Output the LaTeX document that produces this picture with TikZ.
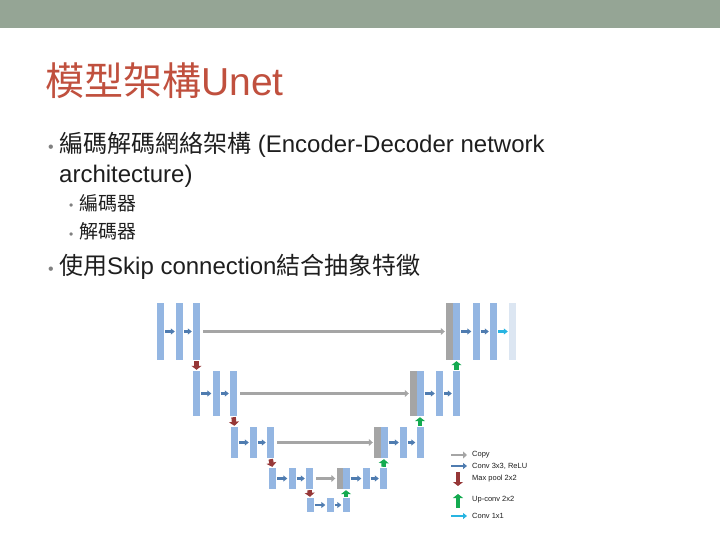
\documentclass[tikz,border=0pt]{standalone}
\usepackage{fontspec}
\setmainfont{Liberation Sans}
\newfontfamily\cjk{Noto Sans CJK TC}
\usetikzlibrary{arrows.meta}
\definecolor{topbar}{RGB}{149,165,149}
\definecolor{titlered}{RGB}{192,80,62}
\definecolor{mapblue}{RGB}{148,182,226}
\definecolor{mapgray}{RGB}{165,165,165}
\definecolor{mapout}{RGB}{220,230,242}
\definecolor{convblue}{RGB}{79,124,176}
\definecolor{poolred}{RGB}{150,55,55}
\definecolor{upgreen}{RGB}{20,170,80}
\definecolor{onecyan}{RGB}{40,180,225}
\definecolor{bodytext}{RGB}{30,30,30}
\tikzset{
  fmap/.style={fill=mapblue, inner sep=0pt, minimum width=7pt},
  cmap/.style={fill=mapgray, inner sep=0pt, minimum width=7pt},
  omap/.style={fill=mapout, inner sep=0pt, minimum width=7pt},
  conv/.style={draw=convblue, line width=2.2pt, -{Triangle[width=6pt,length=4pt]}, shorten >=1pt, shorten <=1pt},
  copyarr/.style={draw=mapgray, line width=2.6pt, -{Triangle[width=7pt,length=4pt]}, shorten >=1pt, shorten <=3pt},
  pool/.style={draw=poolred, line width=4.5pt, -{Triangle[width=10pt,length=4pt]}, shorten >=1pt, shorten <=1pt},
  upconv/.style={draw=upgreen, line width=4.5pt, -{Triangle[width=10pt,length=4pt]}, shorten >=1pt, shorten <=1pt},
  oneconv/.style={draw=onecyan, line width=2.2pt, -{Triangle[width=6pt,length=4pt]}, shorten >=1pt, shorten <=1pt},
  legend/.style={anchor=west, inner sep=0pt, font=\fontsize{7.5}{8}\selectfont, text=bodytext},
  bul/.style={anchor=base west, inner sep=0pt, text=gray},
  body/.style={anchor=base west, inner sep=0pt, text=bodytext, font=\fontsize{24}{28}\selectfont},
  subbody/.style={anchor=base west, inner sep=0pt, text=bodytext, font=\fontsize{19}{21}\selectfont}
}
\begin{document}
\begin{tikzpicture}[x=1pt,y=-1pt]
  \useasboundingbox (0,0) rectangle (720,540);
  \fill[topbar] (0,0) rectangle (720,28);

  % title and bullets
  \node[anchor=base west, inner sep=0pt, text=titlered, font=\fontsize{39}{42}\selectfont] (title) at (45,96) {{\cjk 模型架構}Unet};
  \node[bul, font=\fontsize{16}{18}\selectfont] (b1) at (48,153) {•};
  \node[body] (t1) at (59,153) {{\cjk 編碼解碼網絡架構} (Encoder-Decoder network};
  \node[body] (t1b) at (59,183) {architecture)};
  \node[bul, font=\fontsize{12}{14}\selectfont] (b2) at (69,210) {•};
  \node[subbody] (t2) at (79,211) {\cjk 編碼器};
  \node[bul, font=\fontsize{12}{14}\selectfont] (b3) at (69,238) {•};
  \node[subbody] (t3) at (79,239) {\cjk 解碼器};
  \node[bul, font=\fontsize{16}{18}\selectfont] (b4) at (48,274) {•};
  \node[body] (t4) at (59,274) {{\cjk 使用}Skip connection{\cjk 結合抽象特徵}};

  % level 1
  \node[fmap, minimum height=57pt] (e1a) at (160.5,331.5) {};
  \node[fmap, minimum height=57pt] (e1b) at (179.5,331.5) {};
  \node[fmap, minimum height=57pt] (e1c) at (196.5,331.5) {};
  \node[cmap, minimum height=57pt] (c1) at (449.5,331.5) {};
  \node[fmap, minimum height=57pt] (d1a) at (456.5,331.5) {};
  \node[fmap, minimum height=57pt] (d1b) at (476,331.5) {};
  \node[fmap, minimum height=57pt] (d1c) at (493.5,331.5) {};
  \node[omap, minimum height=57pt] (out) at (512.5,331.5) {};
  % level 2
  \node[fmap, minimum height=45pt] (e2a) at (196.5,393.5) {};
  \node[fmap, minimum height=45pt] (e2b) at (216,393.5) {};
  \node[fmap, minimum height=45pt] (e2c) at (233.5,393.5) {};
  \node[cmap, minimum height=45pt] (c2) at (413.5,393.5) {};
  \node[fmap, minimum height=45pt] (d2a) at (420,393.5) {};
  \node[fmap, minimum height=45pt] (d2b) at (439.5,393.5) {};
  \node[fmap, minimum height=45pt] (d2c) at (456.5,393.5) {};
  % level 3
  \node[fmap, minimum height=31pt] (e3a) at (234.5,442.5) {};
  \node[fmap, minimum height=31pt] (e3b) at (253.5,442.5) {};
  \node[fmap, minimum height=31pt] (e3c) at (270.5,442.5) {};
  \node[cmap, minimum height=31pt] (c3) at (377.5,442.5) {};
  \node[fmap, minimum height=31pt] (d3a) at (384,442.5) {};
  \node[fmap, minimum height=31pt] (d3b) at (403.5,442.5) {};
  \node[fmap, minimum height=31pt] (d3c) at (420,442.5) {};
  % level 4
  \node[fmap, minimum height=21pt] (e4a) at (272.5,478.5) {};
  \node[fmap, minimum height=21pt] (e4b) at (292,478.5) {};
  \node[fmap, minimum height=21pt] (e4c) at (309.5,478.5) {};
  \node[cmap, minimum height=21pt] (c4) at (340,478.5) {};
  \node[fmap, minimum height=21pt] (d4a) at (346,478.5) {};
  \node[fmap, minimum height=21pt] (d4b) at (366,478.5) {};
  \node[fmap, minimum height=21pt] (d4c) at (383.5,478.5) {};
  % level 5
  \node[fmap, minimum height=14pt] (e5a) at (310,505) {};
  \node[fmap, minimum height=14pt] (e5b) at (330,505) {};
  \node[fmap, minimum height=14pt] (e5c) at (346,505) {};

  % conv 3x3
  \foreach \a/\b in {e1a/e1b,e1b/e1c,d1a/d1b,d1b/d1c,e2a/e2b,e2b/e2c,d2a/d2b,d2b/d2c,
                     e3a/e3b,e3b/e3c,d3a/d3b,d3b/d3c,e4a/e4b,e4b/e4c,d4a/d4b,d4b/d4c,e5a/e5b,e5b/e5c}
    \draw[conv] (\a.east) -- (\b.west);
  \draw[oneconv] (d1c.east) -- (out.west);
  % copy
  \foreach \a/\b in {e1c/c1,e2c/c2,e3c/c3,e4c/c4}
    \draw[copyarr] (\a.east) -- (\b.west);
  % pool and up-conv
  \foreach \a/\b in {e1c/e2a,e2c/e3a,e3c/e4a,e4c/e5a}
    \draw[pool] (\a.south) -- (\b.north);
  \foreach \a/\b in {e5c/d4a,d4c/d3a,d3c/d2a,d2c/d1a}
    \draw[upconv] (\a.north) -- (\b.south);

  % legend
  \coordinate (lg1) at (451,455);
  \coordinate (lg2) at (451,466);
  \coordinate (lg3) at (458,472);
  \coordinate (lg4) at (458,508);
  \coordinate (lg5) at (451,516);
  \draw[copyarr, shorten <=0pt] (lg1) -- ++(17,0);
  \draw[conv, shorten <=0pt] (lg2) -- ++(17,0);
  \draw[pool, shorten <=0pt] (lg3) -- ++(0,15);
  \draw[upconv, shorten <=0pt] (lg4) -- ++(0,-15);
  \draw[oneconv, shorten <=0pt] (lg5) -- ++(17,0);
  \node[legend] (l1) at (472,455) {Copy};
  \node[legend] (l2) at (472,466) {Conv 3x3, ReLU};
  \node[legend] (l3) at (472,479) {Max pool 2x2};
  \node[legend] (l4) at (472,500) {Up-conv 2x2};
  \node[legend] (l5) at (472,516) {Conv 1x1};
\end{tikzpicture}
\end{document}
